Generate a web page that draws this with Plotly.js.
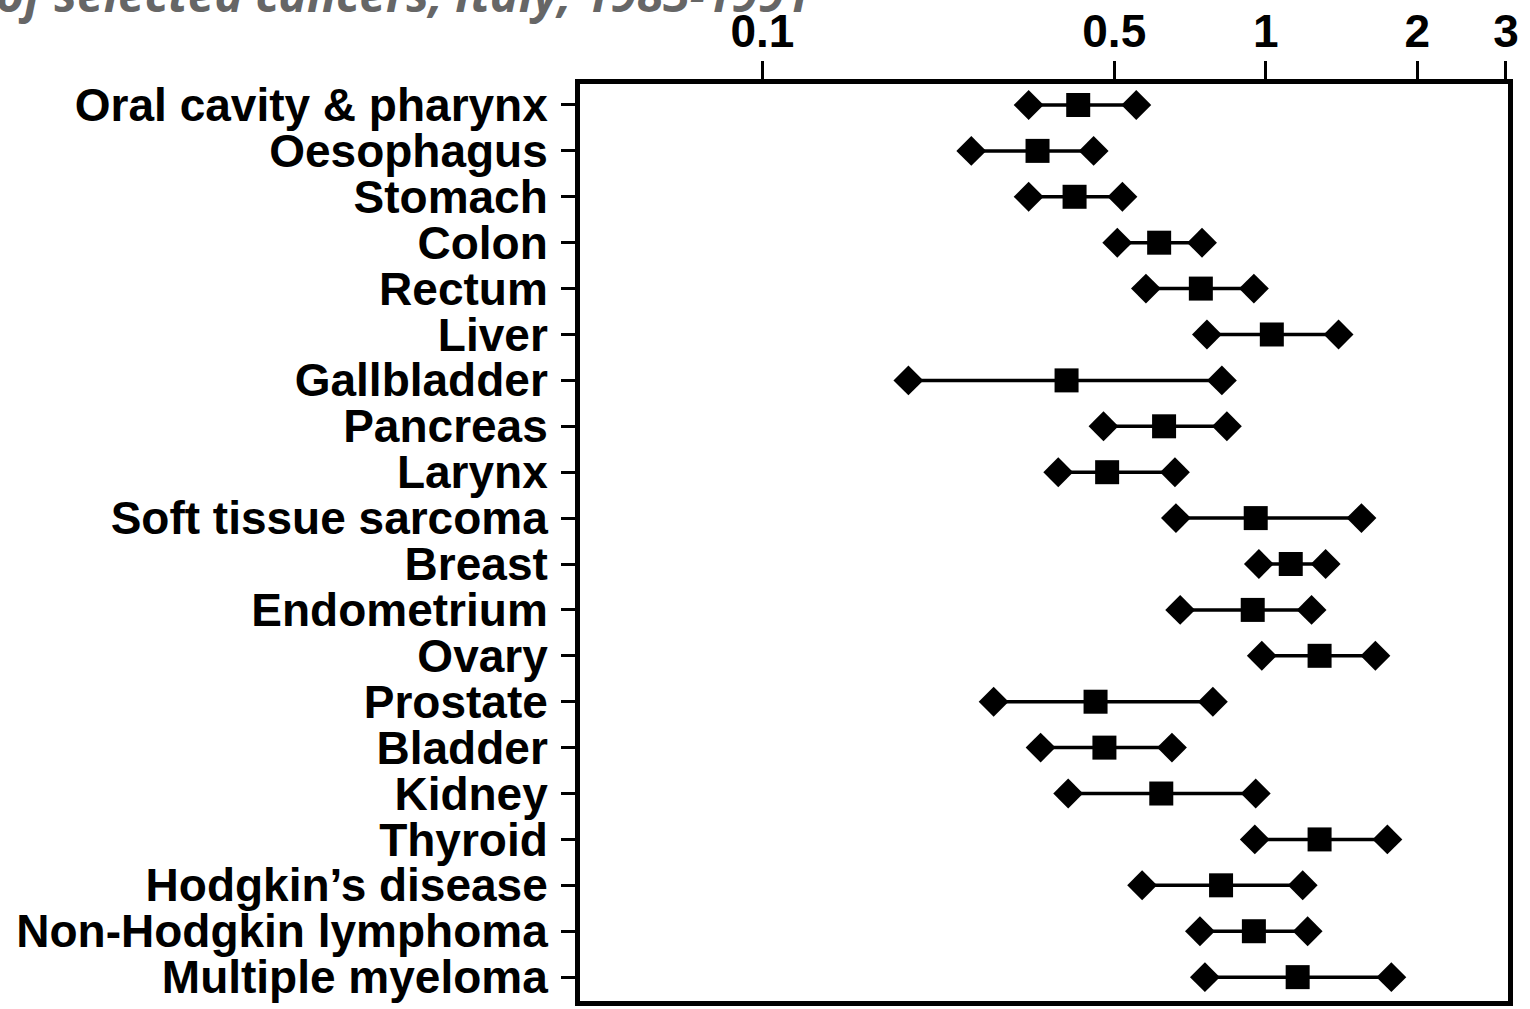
<!DOCTYPE html>
<html>
<head>
<meta charset="utf-8">
<script src="https://cdn.plot.ly/plotly-3.0.1.min.js"></script>
<style>html,body{margin:0;padding:0;background:#fff;}#chart{width:1530px;height:1009px;}</style>
</head>
<body>
<div id="chart"></div>
<script>
// Cancer sites (top to bottom)
const sites = [
  "Oral cavity & pharynx", "Oesophagus", "Stomach", "Colon", "Rectum",
  "Liver", "Gallbladder", "Pancreas", "Larynx", "Soft tissue sarcoma",
  "Breast", "Endometrium", "Ovary", "Prostate", "Bladder",
  "Kidney", "Thyroid", "Hodgkin\u2019s disease", "Non-Hodgkin lymphoma", "Multiple myeloma"
];
// Relative risk estimates (square markers)
const rr = [0.424, 0.352, 0.417, 0.614, 0.743, 1.028, 0.402, 0.628, 0.484, 0.955,
            1.121, 0.942, 1.279, 0.459, 0.478, 0.620, 1.279, 0.815, 0.947, 1.157];
// Lower confidence limits (left diamonds)
const lower = [0.338, 0.260, 0.338, 0.507, 0.578, 0.764, 0.195, 0.476, 0.387, 0.663,
               0.969, 0.676, 0.982, 0.288, 0.357, 0.405, 0.951, 0.568, 0.740, 0.757];
// Upper confidence limits (right diamonds)
const upper = [0.553, 0.455, 0.519, 0.747, 0.947, 1.395, 0.818, 0.837, 0.660, 1.549,
               1.315, 1.233, 1.651, 0.785, 0.651, 0.955, 1.744, 1.184, 1.211, 1.776];
// Axis ticks
const tickValues = [0.1, 0.5, 1, 2, 3];
const tickLabels = ["0.1", "0.5", "1", "2", "3"];
const refValue = 1;

const lineX = [], lineY = [], diaX = [], diaY = [];
sites.forEach((s, i) => {
  lineX.push(lower[i], upper[i], null);
  lineY.push(s, s, null);
  diaX.push(lower[i], upper[i]);
  diaY.push(s, s);
});

const data = [
  {type: "scatter", mode: "lines", x: lineX, y: lineY, line: {color: "#000", width: 3.5},
   hoverinfo: "skip", showlegend: false},
  {type: "scatter", mode: "markers", x: diaX, y: diaY,
   marker: {symbol: "diamond", size: 23, color: "#000"}, showlegend: false, name: "95% CI"},
  {type: "scatter", mode: "markers", x: rr, y: sites,
   marker: {symbol: "square", size: 24, color: "#000"}, showlegend: false, name: "RR"}
];

const font = {family: "Liberation Sans, Arial, Helvetica, sans-serif", color: "#000"};
const layout = {
  width: 1530, height: 1009,
  margin: {l: 580, r: 22, t: 84, b: 8},
  paper_bgcolor: "#fff", plot_bgcolor: "#fff",
  showlegend: false,
  title: {
    text: "Relative risk of selected cancers, Italy, 1983-1991",
    xref: "container", yref: "container", x: 0.53, xanchor: "right",
    y: 1 - 12 / 1009, yanchor: "bottom",
    font: {family: "Open Sans, sans-serif", size: 48, color: "#666", weight: "bold", style: "italic"}
  },
  xaxis: {
    type: "log", side: "top",
    range: [-1.3624, 0.4812],
    tickvals: tickValues, ticktext: tickLabels,
    ticks: "outside", ticklen: 18, tickwidth: 3, tickcolor: "#000",
    ticklabelstandoff: -4,
    tickfont: Object.assign({size: 46, weight: "bold"}, font),
    showline: true, linewidth: 5, linecolor: "#000", mirror: true,
    showgrid: false, zeroline: false, fixedrange: true
  },
  yaxis: {
    type: "category",
    categoryorder: "array", categoryarray: sites,
    tickmode: "array", tickvals: sites, ticktext: sites,
    range: [19.52, -0.457],
    ticks: "outside", ticklen: 14, tickwidth: 3, tickcolor: "#000",
    ticklabelstandoff: 4,
    tickfont: Object.assign({size: 46, weight: "bold"}, font),
    showline: true, linewidth: 5, linecolor: "#000", mirror: true,
    showgrid: false, zeroline: false, fixedrange: true
  },
  shapes: [{
    type: "line", xref: "x", yref: "paper",
    x0: Math.log10(refValue), x1: Math.log10(refValue), y0: 0, y1: 1,
    line: {color: "#000", width: 5}, layer: "below"
  }]
};

Plotly.newPlot("chart", data, layout, {displayModeBar: false, staticPlot: true});
</script>
</body>
</html>
